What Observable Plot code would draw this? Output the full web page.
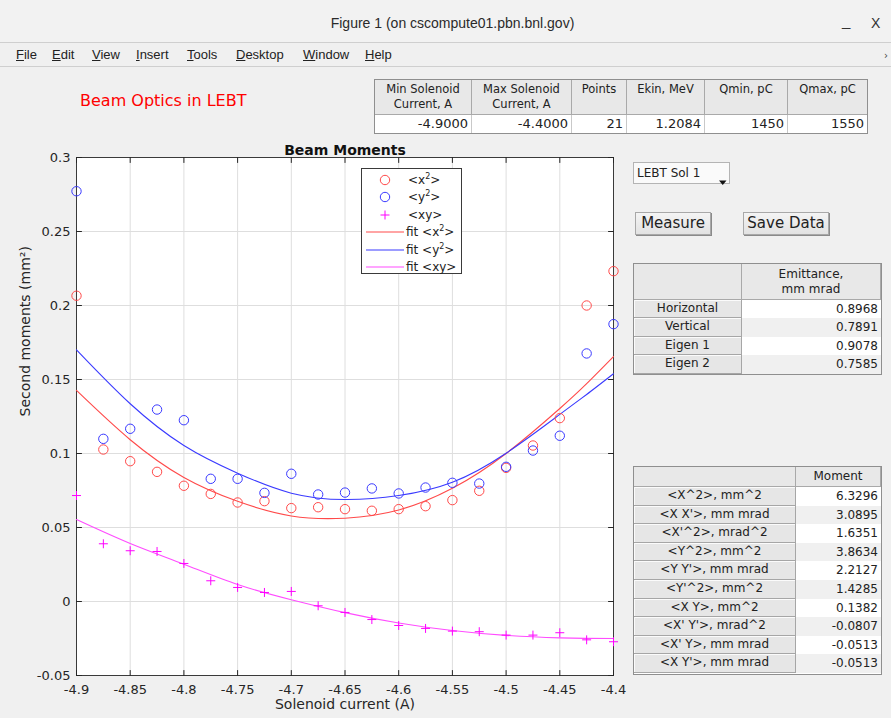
<!DOCTYPE html>
<html>
<head>
<meta charset="utf-8">
<script src="https://cdn.jsdelivr.net/npm/d3@7"></script>
<script src="https://cdn.jsdelivr.net/npm/@observablehq/plot@0.6"></script>
<style>
  html, body { margin: 0; padding: 0; background: #f0f0f0; }
  #win { position: relative; width: 891px; height: 718px; overflow: hidden; background: #f0f0f0;
         font-family: "DejaVu Sans", sans-serif; color: #222; }
  .abs { position: absolute; box-sizing: border-box; white-space: nowrap; }
  .hdr { background: #e8e8e8; border-right: 1px solid #a9a9a9; border-bottom: 1px solid #a9a9a9;
         text-align: center; font-size: 11.5px; line-height: 15px; color: #222; }
  .rowhdr { background: #e6e6e6; border-right: 1px solid #a6a6a6; border-bottom: 1px solid #a6a6a6;
            box-shadow: inset 1px 1px 0 #fbfbfb; text-align: center; font-size: 12px; color: #222; }
  .val { text-align: right; padding-right: 3px; font-size: 12px; color: #222; }
  .btn { background: linear-gradient(#f4f4f4, #e2e2e2); border: 1px solid #a8a8a8;
         box-shadow: 1px 1px 0 #8a8a8a; font-size: 15px; text-align: center; line-height: 21px; color: #222; }
  .leg { font-size: 12px; color: #222; }
  .leg sup { font-size: 8px; vertical-align: 5px; line-height: 0; }
</style>
</head>
<body>
<div id="win"></div>
<script>
// Solenoid scan: measured second moments and fitted curves
const current = [-4.9, -4.875, -4.85, -4.825, -4.8, -4.775, -4.75, -4.725, -4.7, -4.675, -4.65,
                 -4.625, -4.6, -4.575, -4.55, -4.525, -4.5, -4.475, -4.45, -4.425, -4.4];
const momentX2 = [0.2066, 0.1027, 0.0948, 0.0876, 0.0782, 0.0727, 0.0669, 0.0678, 0.0631, 0.0637, 0.0624,
                  0.0613, 0.0624, 0.0644, 0.0685, 0.0748, 0.0903, 0.1054, 0.1239, 0.2000, 0.2232];
const momentY2 = [0.2772, 0.1099, 0.1167, 0.1297, 0.1225, 0.0829, 0.0829, 0.0734, 0.0863, 0.0723, 0.0736,
                  0.0764, 0.0730, 0.0770, 0.0802, 0.0797, 0.0910, 0.1020, 0.1120, 0.1676, 0.1874];
const momentXY = [0.0716, 0.0390, 0.0343, 0.0338, 0.0257, 0.0140, 0.0095, 0.0061, 0.0068, -0.0029, -0.0074,
                  -0.0122, -0.0162, -0.0182, -0.0200, -0.0204, -0.0227, -0.0227, -0.0211, -0.0259, -0.0272];

const fitCurrent = [-4.9, -4.85, -4.8, -4.75, -4.7, -4.65, -4.6, -4.55, -4.5, -4.45, -4.425, -4.4];
const fitX2 = [0.1426, 0.1093, 0.0838, 0.0677, 0.0578, 0.0563, 0.0618, 0.0765, 0.1000, 0.1304, 0.1472, 0.1655];
const fitY2 = [0.1700, 0.1336, 0.1054, 0.0867, 0.0732, 0.0689, 0.0716, 0.0806, 0.1002, 0.1264, 0.1399, 0.1539];
const fitXY = [0.0554, 0.0392, 0.0252, 0.0115, 0.0012, -0.0075, -0.0145, -0.0196, -0.0229, -0.0246, -0.0249, -0.0250];

const xTicks = [-4.9, -4.85, -4.8, -4.75, -4.7, -4.65, -4.6, -4.55, -4.5, -4.45, -4.4];
const xTickLabels = ["-4.9", "-4.85", "-4.8", "-4.75", "-4.7", "-4.65", "-4.6", "-4.55", "-4.5", "-4.45", "-4.4"];
const yTicks = [-0.05, 0, 0.05, 0.1, 0.15, 0.2, 0.25, 0.3];
const yTickLabels = ["-0.05", "0", "0.05", "0.1", "0.15", "0.2", "0.25", "0.3"];

// Scan settings table
const scanHeaders = ["Min Solenoid<br>Current, A", "Max Solenoid<br>Current, A", "Points", "Ekin, MeV", "Qmin, pC", "Qmax, pC"];
const scanValues = ["-4.9000", "-4.4000", "21", "1.2084", "1450", "1550"];

// Emittance results
const emitRows = ["Horizontal", "Vertical", "Eigen 1", "Eigen 2"];
const emitValues = ["0.8968", "0.7891", "0.9078", "0.7585"];

// Beam matrix moments
const momentRows = ["<X^2>, mm^2", "<X X'>, mm mrad", "<X'^2>, mrad^2", "<Y^2>, mm^2", "<Y Y'>, mm mrad",
                    "<Y'^2>, mm^2", "<X Y>, mm^2", "<X' Y'>, mrad^2", "<X' Y>, mm mrad", "<X Y'>, mm mrad"];
const momentValues = ["6.3296", "3.0895", "1.6351", "3.8634", "2.2127", "1.4285", "0.1382", "-0.0807", "-0.0513", "-0.0513"];

const menuItems = ["File", "Edit", "View", "Insert", "Tools", "Desktop", "Window", "Help"];

const RED = "#ff4a4a", BLUE = "#3a3aff", MAG = "#ff00ff", MAGFIT = "#ff4cff";

const fmtX = d => xTickLabels[xTicks.indexOf(d)];
const fmtY = d => yTickLabels[yTicks.indexOf(d)];

const pts = current.map((c, i) => ({c, x2: momentX2[i], y2: momentY2[i], xy: momentXY[i]}));
const fit = fitCurrent.map((c, i) => ({c, x2: fitX2[i], y2: fitY2[i], xy: fitXY[i]}));

// inward tick mark drawn as a short stroke
const tickShape = {draw(ctx, l) { ctx.moveTo(0, 0); ctx.lineTo(0, -l); }};
const tickStyle = {length: 5, anchor: "start", shape: tickShape, stroke: "#262626", strokeWidth: 1};

const chart = Plot.plot({
  width: 891,
  height: 718,
  marginLeft: 76,
  marginRight: 278,
  marginTop: 157,
  marginBottom: 43,
  x: {domain: [-4.9, -4.4]},
  y: {domain: [-0.05, 0.3]},
  style: {fontFamily: "DejaVu Sans, sans-serif", fontSize: "13px", color: "#262626", background: "transparent", overflow: "visible"},
  marks: [
    Plot.frame({fill: "white"}),
    Plot.gridX(xTicks, {stroke: "#dedede", strokeOpacity: 1}),
    Plot.gridY(yTicks, {stroke: "#dedede", strokeOpacity: 1}),
    Plot.frame({stroke: "#3a3a3a", strokeWidth: 1}),
    Plot.vector(yTicks, {x: () => -4.9, y: d => d, rotate: 90, ...tickStyle}),
    Plot.vector(yTicks, {x: () => -4.4, y: d => d, rotate: -90, ...tickStyle}),
    Plot.vector(xTicks, {x: d => d, y: () => -0.05, rotate: 0, ...tickStyle}),
    Plot.vector(xTicks, {x: d => d, y: () => 0.3, rotate: 180, ...tickStyle}),
    Plot.line(fit, {x: "c", y: "x2", stroke: RED, strokeWidth: 1.1, curve: "natural"}),
    Plot.line(fit, {x: "c", y: "y2", stroke: BLUE, strokeWidth: 1.1, curve: "natural"}),
    Plot.line(fit, {x: "c", y: "xy", stroke: MAGFIT, strokeWidth: 1.1, curve: "natural"}),
    Plot.dot(pts, {x: "c", y: "x2", r: 4.7, stroke: RED, fill: "none", strokeWidth: 1}),
    Plot.dot(pts, {x: "c", y: "y2", r: 4.7, stroke: BLUE, fill: "none", strokeWidth: 1}),
    Plot.dot(pts, {x: "c", y: "xy", r: 3, symbol: "plus", stroke: MAG, strokeWidth: 1}),
    Plot.axisX(xTicks, {tickSize: 0, tickPadding: 9, tickFormat: fmtX, label: null, fill: "#262626"}),
    Plot.axisY(yTicks, {tickSize: 0, tickPadding: 6, tickFormat: fmtY, label: null, fill: "#262626"}),
    Plot.text(["Beam Moments"], {frameAnchor: "top", dy: -12, fontWeight: "bold", fontSize: 14, fill: "#111"}),
    Plot.text(["Solenoid current (A)"], {frameAnchor: "bottom", dy: 33, fontSize: 14, fill: "#262626"}),
    Plot.text(["Second moments (mm²)"], {frameAnchor: "left", dx: -51, rotate: -90, fontSize: 14, fill: "#262626"})
  ]
});

const win = document.getElementById("win");
chart.style.position = "absolute";
chart.style.left = "0px";
chart.style.top = "0px";
win.appendChild(chart);

function box(x, y, w, h, cls, html, extra) {
  const d = document.createElement("div");
  d.className = "abs " + (cls || "");
  Object.assign(d.style, {left: x + "px", top: y + "px", width: w + "px", height: h + "px"}, extra || {});
  if (html != null) d.innerHTML = html;
  win.appendChild(d);
  return d;
}
const esc = s => s.replace(/&/g, "&amp;").replace(/</g, "&lt;").replace(/>/g, "&gt;");

// window title bar and menu
box(0, 0, 891, 43, "", "", {background: "#f2f2f2", borderBottom: "1px solid #cfcfcf"});
box(0, 15, 891, 20, "", "Figure 1 (on cscompute01.pbn.bnl.gov)",
    {textAlign: "center", paddingLeft: "14px", fontSize: "14px", fontFamily: "Liberation Sans, sans-serif", color: "#2a2a2a"});
box(842, 12, 16, 20, "", "_", {fontSize: "15px", fontFamily: "Liberation Sans, sans-serif", color: "#333"});
box(871, 15, 16, 20, "", "X", {fontSize: "14px", fontFamily: "Liberation Sans, sans-serif", color: "#333"});
box(0, 44, 891, 23, "", "", {borderBottom: "1px solid #cfcfcf"});
const menuX = [16, 52, 92, 136, 187, 236, 303, 365];
menuItems.forEach((m, i) => {
  box(menuX[i], 47, 80, 18, "", "<u>" + m[0] + "</u>" + m.slice(1),
      {fontSize: "13px", fontFamily: "Liberation Sans, sans-serif", color: "#222"});
});
box(884, 50, 8, 10, "", "›", {fontSize: "10px", color: "#444"});

// heading
box(80, 91, 220, 22, "", "Beam Optics in LEBT", {fontSize: "16px", color: "#ff0000"});

// scan settings table
box(374, 79, 494, 55, "", "", {background: "#fff", border: "1px solid #8f8f8f"});
const scanCols = [375, 472, 572, 627, 705, 788, 867];
scanHeaders.forEach((h, i) => {
  const x = scanCols[i], w = scanCols[i + 1] - x;
  box(x, 80, w, 35, "hdr", h, {paddingTop: "2px", borderRight: i === 5 ? "none" : "1px solid #a9a9a9"});
  box(x, 115, w, 18, "val", scanValues[i], {fontSize: "13px", lineHeight: "18px", borderRight: i === 5 ? "none" : "1px solid #c9c9c9"});
});

// plot legend
const legend = box(361, 168, 101, 106, "leg", "", {background: "#fff", border: "1px solid #3a3a3a"});
const legendRows = [
  {kind: "circle", color: RED, label: "&lt;x<sup>2</sup>&gt;"},
  {kind: "circle", color: BLUE, label: "&lt;y<sup>2</sup>&gt;"},
  {kind: "plus", color: MAG, label: "&lt;xy&gt;"},
  {kind: "line", color: RED, label: "fit &lt;x<sup>2</sup>&gt;"},
  {kind: "line", color: BLUE, label: "fit &lt;y<sup>2</sup>&gt;"},
  {kind: "line", color: MAGFIT, label: "fit &lt;xy&gt;"}
];
legendRows.forEach((r, i) => {
  const cy = 11 + i * 17.4;
  let glyph = "";
  if (r.kind === "circle") glyph = `<circle cx="23" cy="8" r="4.7" fill="none" stroke="${r.color}"/>`;
  if (r.kind === "plus") glyph = `<path d="M18.5,8H27.5M23,3.5V12.5" stroke="${r.color}"/>`;
  if (r.kind === "line") glyph = `<path d="M4,8H42" stroke="${r.color}" stroke-width="1.2"/>`;
  const row = document.createElement("div");
  row.className = "abs";
  Object.assign(row.style, {left: "0px", top: (cy - 8) + "px", width: "100px", height: "16px"});
  row.innerHTML = `<svg width="46" height="16" style="position:absolute;left:0;top:0">${glyph}</svg>` +
    `<span style="position:absolute;left:${r.kind === "line" ? 44 : 46}px;top:0px;line-height:16px">${r.label}</span>`;
  legend.appendChild(row);
});

// selector and buttons
box(633, 162, 97, 22, "", "LEBT Sol 1", {background: "#fafafa", border: "1px solid #b4b4b4", fontSize: "12px", lineHeight: "20px", paddingLeft: "3px"});
box(718, 171, 10, 6, "", `<svg width="10" height="6"><path d="M1,0.5H8.5L4.75,5Z" fill="#111"/></svg>`);
box(635, 212, 76, 23, "btn", "Measure");
box(743, 212, 86, 23, "btn", "Save Data");

// emittance table
box(633, 263, 249, 112, "", "", {background: "#fff", border: "1px solid #8f8f8f"});
box(634, 264, 108, 36, "hdr", "");
box(742, 264, 139, 36, "hdr", "Emittance,<br>mm mrad", {paddingTop: "3px", fontSize: "12px"});
emitRows.forEach((r, i) => {
  const y = 300 + i * 18.4;
  box(634, y, 108, 18.4, "rowhdr", r, {lineHeight: "17px"});
  box(742, y, 139, 18.4, "val", emitValues[i], {lineHeight: "18px", background: i % 2 ? "#f0f0f0" : "#fff"});
});

// moment table
box(633, 466, 249, 209, "", "", {background: "#fff", border: "1px solid #8f8f8f"});
box(634, 467, 162, 20, "hdr", "");
box(796, 467, 85, 20, "hdr", "Moment", {fontSize: "12px", lineHeight: "19px"});
momentRows.forEach((r, i) => {
  const y = 487 + i * 18.6;
  box(634, y, 162, 18.6, "rowhdr", esc(r), {lineHeight: "17px"});
  box(796, y, 85, 18.6, "val", momentValues[i], {lineHeight: "18px", background: i % 2 ? "#f0f0f0" : "#fff"});
});
</script>
</body>
</html>
